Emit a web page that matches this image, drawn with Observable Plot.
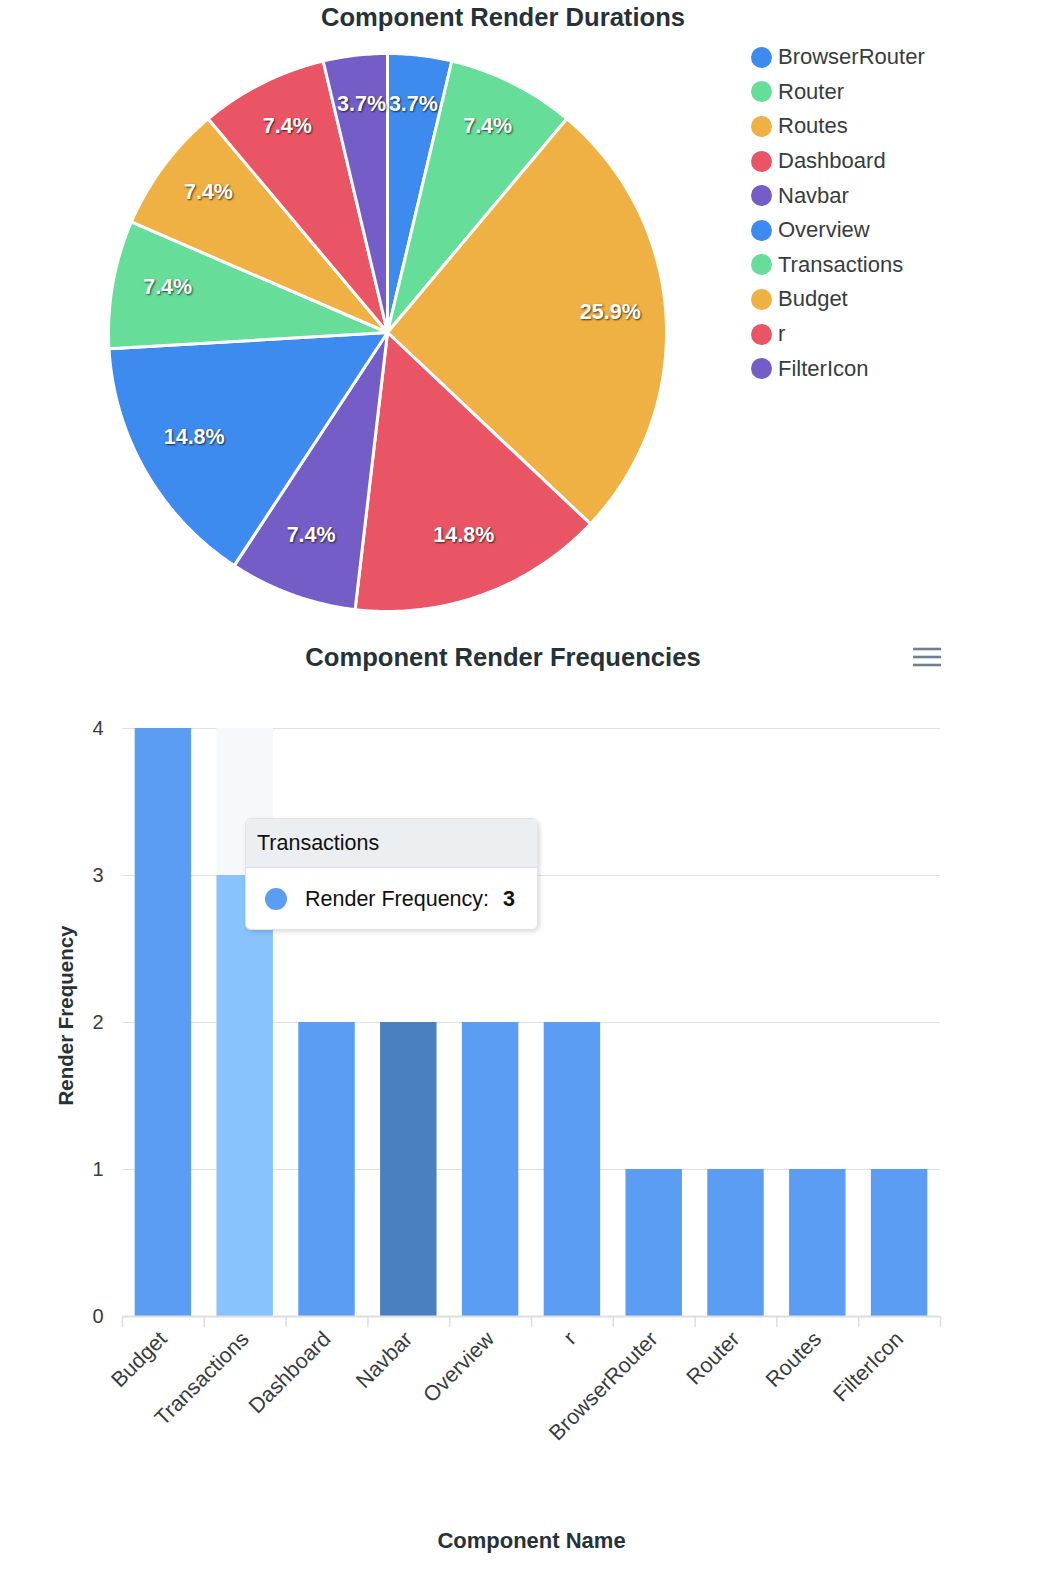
<!DOCTYPE html>
<html><head><meta charset="utf-8">
<script src="https://cdn.jsdelivr.net/npm/d3@7"></script>
<script src="https://cdn.jsdelivr.net/npm/@observablehq/plot@0.6"></script>
<style>
body{margin:0;background:#fff;font-family:"Liberation Sans",Arial,Helvetica,sans-serif;}
#root{position:relative;width:1037px;height:1572px;overflow:hidden;background:#fff;}
.title{position:absolute;left:0;width:1006px;text-align:center;font-weight:bold;font-size:25.6px;line-height:30px;color:#263238;}
.abs{position:absolute;}
#legend{position:absolute;left:750px;top:40px;}
.lg{height:34.6px;display:flex;align-items:center;font-size:22px;color:#373d3f;}
.lg .d{width:21px;height:21px;border-radius:50%;margin-right:6px;margin-left:1px;}
.tip{position:absolute;background:#fff;border:1px solid #e3e3e3;border-radius:6px;box-shadow:2px 2px 6px -2px rgba(0,0,0,0.25);overflow:hidden;font-size:21.5px;color:#111;}
.tip-h{background:#eceff1;border-bottom:1px solid #ddd;height:48px;line-height:48px;padding-left:11px;}
.tip-b{display:flex;align-items:center;height:62px;padding-left:19px;}
.tip-b .dot{width:22px;height:22px;border-radius:50%;background:#5B9DF3;margin-right:18px;}
.tip-b b{margin-left:14px;}
.pie g[aria-label="text"] text{text-shadow:1px 1px 2px rgba(0,0,0,0.7);}
</style></head><body><div id="root"></div>
<script>
// ---------- data ----------
const pieNames = ["BrowserRouter","Router","Routes","Dashboard","Navbar","Overview","Transactions","Budget","r","FilterIcon"];
const pieValues = [1,2,7,4,2,4,2,2,2,1];
const pieColors = ["#3E8BEF","#66DE9A","#F0B144","#EA5566","#745DC7","#3E8BEF","#66DE9A","#F0B144","#EA5566","#745DC7"];

const barNames = ["Budget","Transactions","Dashboard","Navbar","Overview","r","BrowserRouter","Router","Routes","FilterIcon"];
const barValues = [4,3,2,2,2,2,1,1,1,1];
const yTicks = [0,1,2,3,4];
const hoveredBar = "Transactions";
const activeBar = "Navbar";

const pieTitle = "Component Render Durations";
const barTitle = "Component Render Frequencies";
const yTitle = "Render Frequency";
const xTitle = "Component Name";
const tipLabel = "Render Frequency:";

// ---------- layout ----------
const root = document.getElementById("root");
function addDiv(cls, html, style){ const d=document.createElement("div"); d.className=cls; d.innerHTML=html; Object.assign(d.style, style||{}); root.appendChild(d); return d; }

// ---------- pie ----------
const total = d3.sum(pieValues);
const arcs = d3.pie().sort(null)(pieValues);
const piePts = [];
const pieLabels = [];
arcs.forEach((a,i)=>{
  const name = pieNames[i];
  piePts.push({name, x:0, y:0});
  const n = Math.max(2, Math.ceil((a.endAngle-a.startAngle)/0.01));
  for(let k=0;k<=n;k++){
    const t = a.startAngle + (a.endAngle-a.startAngle)*k/n;
    piePts.push({name, x:Math.sin(t), y:Math.cos(t)});
  }
  const m = (a.startAngle+a.endAngle)/2;
  pieLabels.push({x:0.8*Math.sin(m), y:0.8*Math.cos(m), text:(pieValues[i]/total*100).toFixed(1)+"%"});
});

const pie = Plot.plot({
  width:700, height:625, margin:0,
  x:{domain:[-1,1], range:[108,666], axis:null},
  y:{domain:[-1,1], range:[611,53], axis:null},
  color:{domain:pieNames, range:pieColors},
  style:{fontFamily:"'Liberation Sans',Arial,sans-serif", overflow:"visible"},
  marks:[
    Plot.line(piePts,{x:"x",y:"y",z:"name",fill:"name",stroke:"#fff",strokeWidth:3,curve:"linear-closed"}),
    Plot.text(pieLabels,{x:"x",y:"y",text:"text",fill:"#fff",fontWeight:"bold",fontSize:21.5,dy:-7})
  ]
});
pie.classList.add("pie");
const pieWrap = addDiv("abs","",{left:"0px",top:"0px"});
pieWrap.appendChild(pie);
addDiv("title", pieTitle, {top:"2px"});

const legend = addDiv("","",{});
legend.id = "legend";
legend.innerHTML = pieNames.map((n,i)=>`<div class="lg"><span class="d" style="background:${pieColors[i]}"></span>${n}</div>`).join("");

// ---------- bars ----------
const barData = barNames.map((n,i)=>({name:n, value:barValues[i]}));
const step = (1037-122-97)/barNames.length;
const bars = Plot.plot({
  width:1037, height:932,
  marginLeft:122, marginRight:97, marginTop:88, marginBottom:256,
  x:{type:"band", domain:barNames, paddingInner:0.31, paddingOuter:0.155, round:false, label:null},
  y:{domain:[0,4], label:null},
  style:{fontFamily:"'Liberation Sans',Arial,sans-serif", color:"#373d3f", overflow:"visible"},
  marks:[
    Plot.ruleY(yTicks,{y:d=>d, stroke:"#e0e0e0", strokeWidth:1.2}),
    Plot.barY([hoveredBar],{x:d=>d, y1:0, y2:d3.max(barValues), fill:"#f6f8fb"}),
    Plot.barY(barData,{x:"name", y:"value", fill:d=>d.name===hoveredBar?"#88C3FC":d.name===activeBar?"#4A7FC0":"#5B9DF3"}),
    Plot.ruleY([0],{stroke:"#dedede", strokeWidth:2}),
    Plot.ruleX(barNames,{x:d=>d, dx:-step/2, y1:0, y2:-0.075, stroke:"#dedede", strokeWidth:1.5}),
    Plot.ruleX([barNames[barNames.length-1]],{x:d=>d, dx:step/2, y1:0, y2:-0.075, stroke:"#dedede", strokeWidth:1.5}),
    Plot.axisY(yTicks,{tickSize:0, tickPadding:19, fontSize:20, tickFormat:d3.format("d"), label:null}),
    Plot.axisX({tickSize:0, tickRotate:-45, tickPadding:19, fontSize:21.5, label:null}),
    Plot.text([yTitle],{frameAnchor:"left", textAnchor:"middle", rotate:-90, dx:-56, dy:-7, fontWeight:"bold", fontSize:20.5, fill:"#263238"}),
    Plot.text([xTitle],{frameAnchor:"bottom", lineAnchor:"middle", dy:224, fontWeight:"bold", fontSize:22, fill:"#263238"})
  ]
});
const barWrap = addDiv("abs","",{left:"0px",top:"640px"});
barWrap.appendChild(bars);
addDiv("title", barTitle, {top:"642px"});

// menu icon
addDiv("abs", `<svg width="30" height="24"><g stroke="#6e8192" stroke-width="2.6"><line x1="1" y1="3" x2="29" y2="3"/><line x1="1" y1="11" x2="29" y2="11"/><line x1="1" y1="19" x2="29" y2="19"/></g></svg>`, {left:"912px", top:"646px"});

// tooltip
const hv = barValues[barNames.indexOf(hoveredBar)];
addDiv("tip", `<div class="tip-h">${hoveredBar}</div><div class="tip-b"><span class="dot"></span>${tipLabel}<b>${hv}</b></div>`, {left:"245px", top:"818px", width:"291px", height:"110px"});
</script>
</body></html>
